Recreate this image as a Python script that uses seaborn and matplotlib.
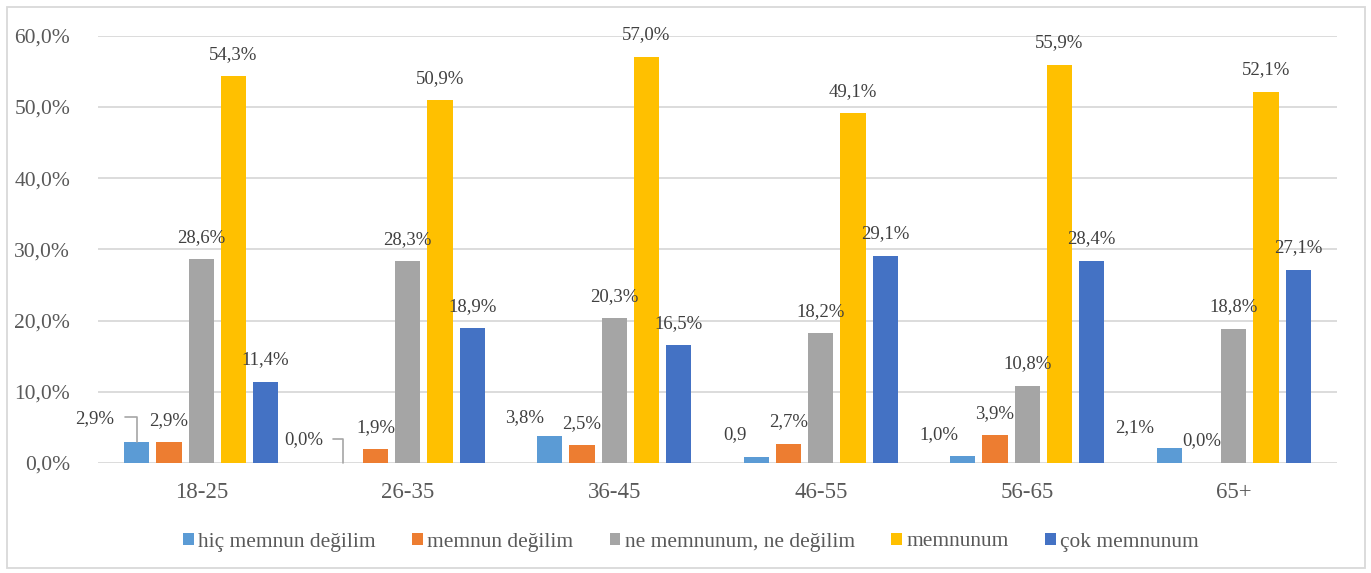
import matplotlib
matplotlib.use("Agg")
import matplotlib.pyplot as plt
from matplotlib.patches import Patch, Rectangle
import seaborn as sns
import pandas as pd
import numpy as np

# ---- data ----
categories = ["18-25", "26-35", "36-45", "46-55", "56-65", "65+"]
series_names = ["hiç memnun değilim", "memnun değilim", "ne memnunum, ne değilim",
                "memnunum", "çok memnunum"]
hic_memnun_degilim = [2.9, 0.0, 3.8, 0.9, 1.0, 2.1]
memnun_degilim = [2.9, 1.9, 2.5, 2.7, 3.9, 0.0]
ne_memnunum_ne_degilim = [28.6, 28.3, 20.3, 18.2, 10.8, 18.8]
memnunum = [54.3, 50.9, 57.0, 49.1, 55.9, 52.1]
cok_memnunum = [11.4, 18.9, 16.5, 29.1, 28.4, 27.1]
series_values = [hic_memnun_degilim, memnun_degilim, ne_memnunum_ne_degilim,
                 memnunum, cok_memnunum]
y_ticks = [0, 10, 20, 30, 40, 50, 60]
colors = ["#5B9BD5", "#ED7D31", "#A5A5A5", "#FFC000", "#4472C4"]

rows = []
for s, vals in zip(series_names, series_values):
    for c, v in zip(categories, vals):
        rows.append({"grup": c, "seri": s, "deger": v})
df = pd.DataFrame(rows)

sns.set_theme(style="white")
plt.rcParams["font.family"] = ["Liberation Serif", "DejaVu Serif"]

W, H = 1371, 573
fig = plt.figure(figsize=(W / 100, H / 100), dpi=100)
ax = fig.add_axes([98 / W, (H - 463) / H, (1337 - 98) / W, (463 - 35.6) / H])

sns.barplot(data=df, x="grup", y="deger", hue="seri", order=categories,
            hue_order=series_names, palette=colors, width=0.78, gap=0.22,
            saturation=1, legend=False, ax=ax, edgecolor="none")

ax.set_xlim(-0.5, len(categories) - 0.5)
ax.set_ylim(0, 60)
ax.set_yticks(y_ticks)
ax.set_yticklabels([f"{t:.1f}".replace(".", ",") + "%" for t in y_ticks],
                   fontsize=15.5, color="#595959")
ax.tick_params(axis="y", length=0, pad=20)
ax.tick_params(axis="x", length=0, pad=14, labelsize=16.5, labelcolor="#595959")
ax.set_xlabel("")
ax.set_ylabel("")
for sp in ax.spines.values():
    sp.set_visible(False)
ax.yaxis.grid(True, color="#D9D9D9", linewidth=1.3)
ax.set_axisbelow(True)

# label offsets in pixels (dx, dy above bar top) for displaced labels
label_offsets = {(0, 0): (-42, 24), (0, 1): (-40, 23), (0, 2): (-25, 18),
                 (0, 3): (-21, 22), (0, 4): (-24, 21), (0, 5): (-35, 20)}
leader = {(0, 0): -12, (0, 1): -10}

fig.canvas.draw()
inv = ax.transData.inverted()
for si, cont in enumerate(ax.containers):
    for ci, bar in enumerate(cont.patches):
        v = series_values[si][ci]
        xc = bar.get_x() + bar.get_width() / 2
        txt = f"{v:.1f}".replace(".", ",") + "%"
        if (si, ci) == (0, 3):
            txt = f"{v:.1f}".replace(".", ",")
        dx, dy = label_offsets.get((si, ci), (0, 22))
        px, py = ax.transData.transform((xc, v))
        lx, ly = inv.transform((px + dx, py + dy))
        ax.text(lx, ly, txt, ha="center", va="center", fontsize=13.5,
                color="#404040", zorder=5)
        if (si, ci) in leader:
            x0, y0 = inv.transform((px + leader[(si, ci)], py + dy + 1))
            x1, y1 = inv.transform((px, py + dy + 1))
            ax.plot([x0, x1, x1], [y0, y1, v], color="#A6A6A6", lw=1.2,
                    zorder=4, clip_on=False)

handles = [Patch(facecolor=c, edgecolor="none", label=n)
           for c, n in zip(colors, series_names)]
fig.legend(handles=handles, loc="center", bbox_to_anchor=(691 / W, (H - 542) / H),
           ncol=5, frameon=False, fontsize=15.4, handlelength=0.5,
           handleheight=0.5, handletextpad=0.2, columnspacing=1.7,
           labelcolor="#595959")

fig.patches.append(Rectangle((7 / W, 5 / H), (1365 - 7) / W, (568 - 7) / H,
                             transform=fig.transFigure, fill=False,
                             edgecolor="#D9D9D9", linewidth=1.3))

fig.savefig("out.png", dpi=100)
